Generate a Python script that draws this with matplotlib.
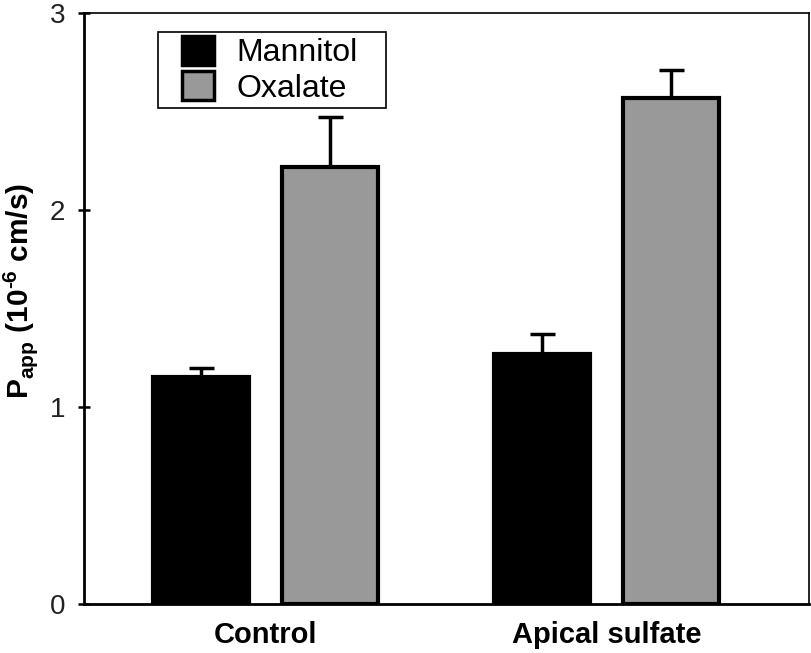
import numpy as np
import matplotlib.pyplot as plt
from matplotlib.patches import Patch, Rectangle

plt.rcParams['font.family'] = ['Liberation Sans', 'DejaVu Sans']
plt.rcParams['mathtext.fontset'] = 'custom'
plt.rcParams['mathtext.rm'] = 'Liberation Sans:bold'
plt.rcParams['mathtext.bf'] = 'Liberation Sans:bold'

groups = ["Control", "Apical sulfate"]
series = ["Mannitol", "Oxalate"]
mannitol = [1.15, 1.27]
mannitol_err = [0.05, 0.10]
oxalate = [2.22, 2.57]
oxalate_err = [0.25, 0.14]
colors = ["#000000", "#999999"]

fig = plt.figure(figsize=(8.12, 6.53), dpi=100)
ax = fig.add_axes([84 / 812, 49 / 653, 725 / 812, 591 / 653])

x = np.arange(len(groups))
off = 0.189
w = 0.281
for vals, errs, pos, c in [(mannitol, mannitol_err, x - off, colors[0]),
                           (oxalate, oxalate_err, x + off, colors[1])]:
    ax.bar(pos, vals, width=w, color=c, edgecolor="black", linewidth=3, zorder=2)
    ax.errorbar(pos, vals, yerr=[np.zeros(len(errs)), errs], fmt="none",
                ecolor="black", elinewidth=2.5, capsize=9, capthick=2.5, zorder=1)

ax.set_xlim(-0.531, 1.592)
ax.set_ylim(0, 3)
ax.set_yticks([0, 1, 2, 3])
ax.set_yticklabels(["0", "1", "2", "3"], fontsize=20, color="#222222")
ax.set_xticks(x)
ax.set_xticklabels(groups, fontsize=21, fontweight="bold")
ax.tick_params(axis="x", length=0, pad=12)
ax.tick_params(axis="y", direction="inout", length=9, width=1.8, pad=9)
ax.spines["left"].set_linewidth(2)
ax.spines["bottom"].set_linewidth(2)
ax.spines["top"].set_linewidth(1.2)
ax.spines["right"].set_linewidth(1.2)
ax.set_ylabel(r"P$_\mathregular{app}$ (10$^{\text{-}6}$ cm/s)",
              fontsize=21.5, fontweight="bold")
ax.yaxis.set_label_coords(-0.061, 0.53)

# legend frame drawn by hand to get the wide right margin
ax.add_patch(Rectangle((0.102, 0.839), 0.3146, 0.129, transform=ax.transAxes,
                       facecolor="white", edgecolor="black", linewidth=1.2,
                       zorder=3))
handles = [Patch(facecolor=colors[0], edgecolor="black", linewidth=2.5),
           Patch(facecolor=colors[1], edgecolor="black", linewidth=2.5)]
leg = ax.legend(handles, series, loc="upper left", bbox_to_anchor=(0.135, 0.961),
                fontsize=23, frameon=False, handlelength=1.0,
                handleheight=1.0, handletextpad=0.72, borderpad=0,
                labelspacing=0.1, borderaxespad=0)
leg.set_zorder(4)

fig.savefig("out.png", dpi=100)
